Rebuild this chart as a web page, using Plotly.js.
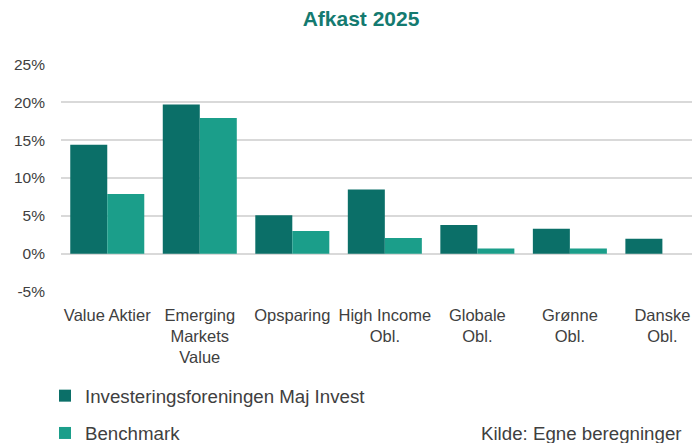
<!DOCTYPE html>
<html>
<head>
<meta charset="utf-8">
<script src="https://cdn.plot.ly/plotly-3.0.1.min.js"></script>
<style>html,body{margin:0;padding:0;background:#fff;}#chart{width:692px;height:443px;}</style>
</head>
<body>
<div id="chart"></div>
<script>
const categories = ["Value Aktier", "Emerging<br>Markets<br>Value", "Opsparing", "High Income<br>Obl.", "Globale<br>Obl.", "Grønne<br>Obl.", "Danske<br>Obl."];
const majInvest = [14.4, 19.7, 5.1, 8.5, 3.8, 3.3, 2.0];
const benchmark = [7.9, 17.9, 3.0, 2.1, 0.7, 0.7, null];
const seriesNames = ["Investeringsforeningen Maj Invest", "Benchmark"];
const yTicks = [-5, 0, 5, 10, 15, 20, 25];
const yTickText = yTicks.map(v => v + "%");

const FONT = "Liberation Sans, Arial, sans-serif";
const traces = [
  {type: "bar", name: seriesNames[0], x: categories, y: majInvest, marker: {color: "#0b6f68"}, legendgroup: "a", hoverinfo: "y"},
  {type: "bar", name: seriesNames[1], x: categories, y: benchmark, marker: {color: "#1b9e8a"}, legendgroup: "b", hoverinfo: "y"}
];
const layout = {
  width: 692, height: 443,
  margin: {l: 61, r: 0, t: 64, b: 151, pad: 0, autoexpand: false},
  paper_bgcolor: "#fff", plot_bgcolor: "#fff",
  font: {family: FONT, color: "#404040", size: 16},
  title: {text: "Afkast 2025", font: {family: FONT, size: 21, color: "#147a70", weight: "bold"}, x: 361/692, xref: "container", xanchor: "center", y: 1 - 19/443, yref: "container", yanchor: "middle"},
  barmode: "group", bargap: 0.2, bargroupgap: 0,
  xaxis: {type: "category", range: [-0.5, 6.32], automargin: false, tickangle: 0, showgrid: false, zeroline: false, showline: false, ticks: "", tickfont: {size: 16.5, color: "#404040"}, ticklabelstandoff: 11, fixedrange: true},
  yaxis: {range: [-5.03, 25.03], automargin: false, tickvals: yTicks, ticktext: yTickText, showgrid: true, gridcolor: "#d9d9d9", gridwidth: 1.5, zeroline: true, zerolinecolor: "#d9d9d9", zerolinewidth: 1.5, showline: false, ticks: "", tickfont: {size: 15.5, color: "#404040"}, ticklabelstandoff: 15, fixedrange: true},
  showlegend: true,
  legend: {orientation: "v", xref: "container", yref: "container", x: 45/692, xanchor: "left", y: 1 - 377/443, yanchor: "top", traceorder: "grouped", tracegroupgap: 10, font: {size: 18.7, color: "#404040"}, bgcolor: "rgba(0,0,0,0)"},
  annotations: [{text: "Kilde: Egne beregninger", xref: "paper", yref: "paper", x: (684-61)/631, y: -(433-292)/228, xanchor: "right", yanchor: "middle", showarrow: false, font: {size: 18.7, color: "#404040"}}]
};
Plotly.newPlot("chart", traces, layout, {displayModeBar: false, staticPlot: true});
</script>
</body>
</html>
